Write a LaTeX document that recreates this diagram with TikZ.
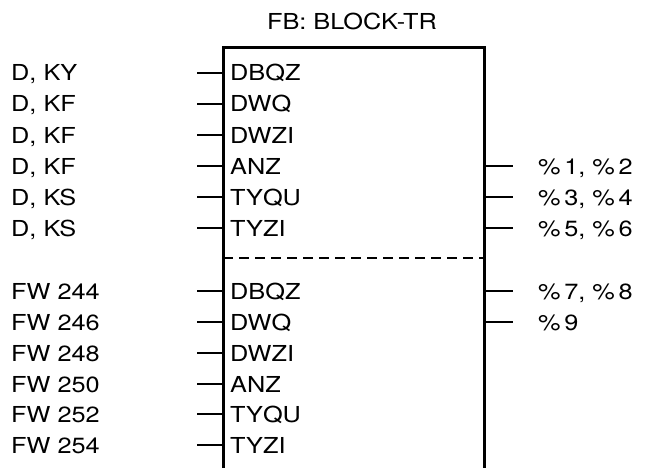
\documentclass[tikz,border=0pt]{standalone}
\usepackage{fontspec}
\setmainfont{TeX Gyre Heros}[FakeStretch=1.15]
\begin{document}
\begin{tikzpicture}[x=1pt,y=-1pt,
  lab/.style={anchor=base west, inner sep=0pt, font=\fontsize{22}{26}\selectfont},
  ttl/.style={anchor=base, inner sep=0pt, font=\fontsize{22}{26}\selectfont},
  boxline/.style={line width=3pt, line join=miter},
  tickline/.style={line width=2pt},
  divline/.style={line width=2pt, dash pattern=on 10pt off 6pt}]
\useasboundingbox (0,0) rectangle (650,468);
% block outline (open at the bottom)
\coordinate (bl) at (223,472);
\coordinate (tl) at (223,48);
\coordinate (tr) at (484,48);
\coordinate (br) at (484,472);
\draw[boxline] (bl) -- (tl) -- (tr) -- (br);
\node[ttl] (title) at (352,30) {FB: BLOCK-TR};
% divider
\coordinate (dl) at (223,258);
\coordinate (dr) at (484,258);
\draw[divline] (dl) -- (dr);
% inputs
\foreach \i/\y/\src/\port in {1/73/{D, KY}/DBQZ, 2/104/{D, KF}/DWQ, 3/135/{D, KF}/DWZI,
    4/166/{D, KF}/ANZ, 5/197/{D, KS}/TYQU, 6/228/{D, KS}/TYZI,
    7/291/{FW 244}/DBQZ, 8/322/{FW 246}/DWQ, 9/353/{FW 248}/DWZI,
    10/384/{FW 250}/ANZ, 11/414/{FW 252}/TYQU, 12/445/{FW 254}/TYZI}{
  \coordinate (t\i) at (197,\y);
  \draw[tickline] (t\i) -- (t\i -| tl);
  \node[lab] (in\i) at (11,\y+8) {\src};
  \node[lab] (p\i) at (230,\y+8) {\port};
}
% outputs
\foreach \j/\y/\dst in {4/166/{\%\,1, \%\,2}, 5/197/{\%\,3, \%\,4}, 6/228/{\%\,5, \%\,6},
    7/291/{\%\,7, \%\,8}, 8/322/{\%\,9}}{
  \coordinate (r\j) at (513,\y);
  \draw[tickline] (r\j -| tr) -- (r\j);
  \node[lab] (out\j) at (538,\y+8) {\dst};
}
\end{tikzpicture}
\end{document}
